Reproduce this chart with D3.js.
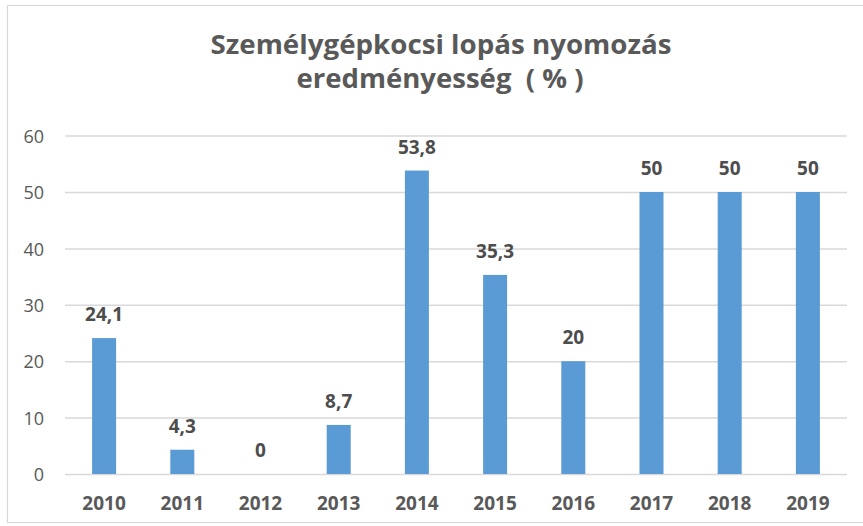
<!DOCTYPE html>
<html>
<head>
<meta charset="utf-8">
<script src="https://cdn.jsdelivr.net/npm/d3@7"></script>
<style>
    body { margin: 0; background: #fff; }
    text { font-family: "Open Sans", "Liberation Sans", sans-serif; }
</style>
</head>
<body>
<div id="chart"></div>
<script>
const years = ['2010', '2011', '2012', '2013', '2014', '2015', '2016', '2017', '2018', '2019']
const values = [24.1, 4.3, 0, 8.7, 53.8, 35.3, 20, 50, 50, 50]
const yTicks = [0, 10, 20, 30, 40, 50, 60]
const titleLines = ['Személygépkocsi lopás nyomozás', 'eredményesség  ( % )']

const width = 863
const height = 526
const textColor = '#595959'

const barData = years.map((y, i) => ({year: y, value: values[i]}))

const svg = d3.select('#chart').append('svg')
    .attr('width', width)
    .attr('height', height)

// chart frame, runs off the right edge like in the screenshot
svg.append('rect')
    .attr('x', 7.5).attr('y', 5.5)
    .attr('width', width + 20).attr('height', 517)
    .attr('fill', 'none')
    .attr('stroke', '#d9d9d9')
    .attr('stroke-width', 1.2)

const xScale = d3.scaleBand()
    .domain(years)
    .range([65, 847])
    .paddingInner(0.693)
    .paddingOuter(0.3465)

const yScale = d3.scaleLinear()
    .domain([0, 60])
    .range([474, 135.6])

// gridlines + tick labels
const yAxis = svg.append('g')
    .attr('transform', 'translate(65,0)')
    .call(d3.axisLeft(yScale).tickValues(yTicks).tickSize(-782).tickPadding(21))
yAxis.select('.domain').remove()
yAxis.selectAll('.tick line').attr('stroke', '#d9d9d9').attr('stroke-width', 1.5)
yAxis.selectAll('.tick text')
    .attr('fill', textColor)
    .style('font-size', '18px')
    .attr('dy', '0.37em')

svg.selectAll('.bar')
    .data(barData)
    .enter().append('rect')
    .attr('class', 'bar')
    .attr('x', d => xScale(d.year))
    .attr('y', d => yScale(d.value))
    .attr('width', xScale.bandwidth())
    .attr('height', d => yScale(0) - yScale(d.value))
    .attr('fill', '#5b9bd5')

const xAxis = svg.append('g')
    .attr('transform', `translate(0, ${yScale(0)})`)
    .call(d3.axisBottom(xScale).tickSize(0).tickPadding(0))
xAxis.select('.domain').remove()
xAxis.selectAll('.tick text')
    .attr('fill', textColor)
    .attr('dy', 0)
    .attr('y', 36)
    .style('font-size', '19px')
    .style('font-weight', 'bold')

const huFormat = d3.formatLocale({decimal: ',', thousands: ' ', grouping: [3], currency: ['', ' Ft']}).format('~g')

svg.selectAll('.bar-label')
    .data(barData)
    .enter().append('text')
    .attr('class', 'bar-label')
    .attr('x', d => xScale(d.year) + xScale.bandwidth() / 2)
    .attr('y', d => yScale(d.value) - 17)
    .attr('text-anchor', 'middle')
    .attr('fill', '#4d4d4d')
    .style('font-size', '19px')
    .style('font-weight', 'bold')
    .text(d => huFormat(d.value))

// title, squeezed a bit to get the narrow Calibri look
const titleSpec = [{x: 441, y: 54, len: 461}, {x: 440, y: 88, len: 287}]
svg.selectAll('.title')
    .data(titleLines)
    .enter().append('text')
    .attr('class', 'title')
    .attr('x', (d, i) => titleSpec[i].x)
    .attr('y', (d, i) => titleSpec[i].y)
    .attr('text-anchor', 'middle')
    .attr('textLength', (d, i) => titleSpec[i].len)
    .attr('lengthAdjust', 'spacingAndGlyphs')
    .attr('fill', textColor)
    .style('font-size', '27px')
    .style('font-weight', 'bold')
    .style('white-space', 'pre')
    .text(d => d)
</script>
</body>
</html>
